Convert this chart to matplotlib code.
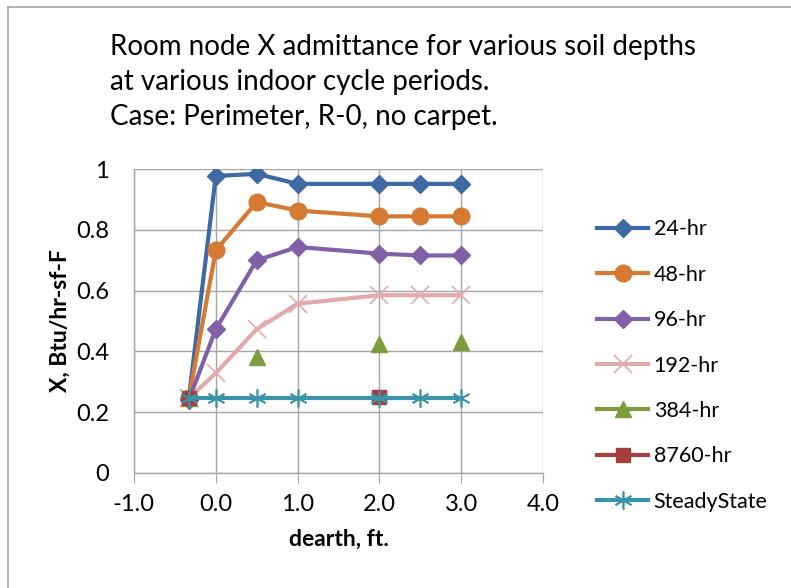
import matplotlib
matplotlib.use("Agg")
import matplotlib.pyplot as plt
from matplotlib.lines import Line2D

plt.rcParams['font.family'] = ['Lato', 'DejaVu Sans']

depths = [-0.33, 0.0, 0.5, 1.0, 2.0, 2.5, 3.0]
hr24 = [0.245, 0.978, 0.985, 0.952, 0.952, 0.952, 0.952]
hr48 = [0.245, 0.733, 0.892, 0.864, 0.845, 0.845, 0.845]
hr96 = [0.240, 0.473, 0.700, 0.744, 0.722, 0.716, 0.716]
hr192 = [0.245, 0.328, 0.473, 0.557, 0.585, 0.585, 0.585]
hr384 = [0.245, None, 0.380, None, 0.425, None, 0.430]
hr8760 = [0.245, None, None, None, 0.250, None, None]
steady = [0.245, 0.245, 0.245, 0.245, 0.245, 0.245, 0.245]

labels = ['24-hr', '48-hr', '96-hr', '192-hr', '384-hr', '8760-hr', 'SteadyState']
colors = ['#3E69A2', '#D47A33', '#8060A6', '#E2AAAA', '#7D9C3E', '#A63E3B', '#3A93A8']
markers = ['D', 'o', 'D', 'x', '^', 's', '*']
msizes = [9, 12, 9, 13, 11, 10, 13]

series = [hr24, hr48, hr96, hr192, hr384, hr8760, steady]

fig = plt.figure(figsize=(7.91, 5.88), dpi=100)
ax = fig.add_axes([134/791, 1-472.7/588, (543-134)/791, (472.7-169.3)/588])

for vals, lab, c, m, ms in zip(series, labels, colors, markers, msizes):
    xs = [x for x, v in zip(depths, vals) if v is not None]
    ys = [v for v in vals if v is not None]
    if lab in ('384-hr', '8760-hr'):
        ax.plot(xs, ys, linestyle='none', color=c, marker=m, markersize=ms,
                markeredgecolor=c, label=lab, zorder=3)
    elif m in ('x', '*'):
        ax.plot(xs, ys, color=c, lw=3, marker=m if m == 'x' else (6, 2, 0), markersize=ms,
                markeredgewidth=1.2, markeredgecolor=c, label=lab, zorder=3)
    else:
        ax.plot(xs, ys, color=c, lw=3, marker=m, markersize=ms,
                markeredgecolor=c, label=lab, zorder=3)

ax.set_xlim(-1, 4)
ax.set_ylim(0, 1)
ax.set_xticks([-1, 0, 1, 2, 3, 4])
ax.set_xticklabels(['-1.0', '0.0', '1.0', '2.0', '3.0', '4.0'])
ax.set_yticks([0, 0.2, 0.4, 0.6, 0.8, 1.0])
ax.set_yticklabels(['0', '0.2', '0.4', '0.6', '0.8', '1'])
ax.grid(True, color='#A6A6A6', lw=1.0)
ax.set_axisbelow(True)
for s in ['top', 'right']:
    ax.spines[s].set_visible(False)
for s in ['left', 'bottom']:
    ax.spines[s].set_color('#A6A6A6')
    ax.spines[s].set_linewidth(1.0)
ax.tick_params(axis='y', length=0, pad=18, labelsize=17)
ax.tick_params(axis='x', length=7, color='#A6A6A6', pad=8, labelsize=17)
ax.set_xlabel('dearth, ft.', fontsize=16.5, fontweight='bold', labelpad=10)
ax.set_ylabel('X, Btu/hr-sf-F', fontsize=16.5, fontweight='bold', labelpad=4)

fig.text(110/791, 1-47/588, 'Room node X admittance for various soil depths',
         fontsize=20, va='center', ha='left')
fig.text(110/791, 1-82/588, 'at various indoor cycle periods.',
         fontsize=20, va='center', ha='left')
fig.text(110/791, 1-117/588, 'Case: Perimeter, R-0, no carpet.',
         fontsize=20, va='center', ha='left')

leg = fig.legend(loc='upper left', bbox_to_anchor=(578/791, 1-200/588), frameon=False,
                 fontsize=15.5, handlelength=2.37, labelspacing=1.18, handletextpad=0.25)
for h in leg.legend_handles:
    h.set_linestyle('-')
    h.set_linewidth(3)

fig.add_artist(Line2D([8/791, 8/791], [0, 1-7/588], color='#A6A6A6', lw=1.2))
fig.add_artist(Line2D([8/791, 1], [1-7/588, 1-7/588], color='#A6A6A6', lw=1.2))

fig.savefig('out.png', dpi=100)
